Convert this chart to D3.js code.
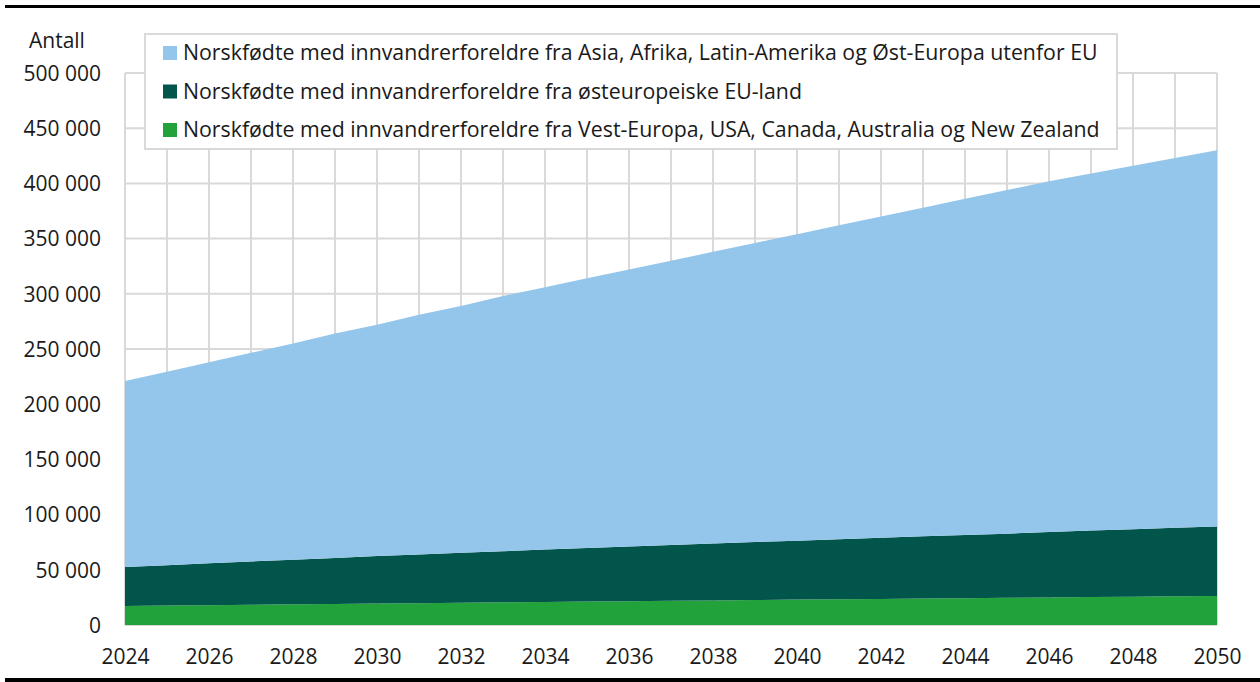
<html>
<head>
<meta http-equiv="Content-Type" content="text/html;charset=utf-8">
<title>Norskfødte med innvandrerforeldre</title>
<style>
  body { margin: 0; background: #fff; }
  svg text { font-family: "Open Sans", "DejaVu Sans", sans-serif; fill: #1a1a1a; }
</style>
</head>
<body>
<script src="https://cdn.jsdelivr.net/npm/d3@7/dist/d3.min.js"></script>
<script>
    var w = 1260, h = 682, fs = 21;

    var years = d3.range(2024, 2051);
    var yTicks = [0, 50000, 100000, 150000, 200000, 250000, 300000, 350000, 400000, 450000, 500000];
    var xTicks = [2024, 2026, 2028, 2030, 2032, 2034, 2036, 2038, 2040, 2042, 2044, 2046, 2048, 2050];

    var seriesNames = [
        'Norskfødte med innvandrerforeldre fra Vest-Europa, USA, Canada, Australia og New Zealand',
        'Norskfødte med innvandrerforeldre fra østeuropeiske EU-land',
        'Norskfødte med innvandrerforeldre fra Asia, Afrika, Latin-Amerika og Øst-Europa utenfor EU'
    ];
    var seriesColors = ['#22a23a', '#01554a', '#94c6eb'];

    // values
    var vestEuropa = [17200, 17600, 18000, 18400, 18800, 19100, 19500, 19800, 20200, 20500, 20900, 21200, 21600, 21900,
        22300, 22600, 23000, 23300, 23600, 24000, 24300, 24600, 25000, 25300, 25600, 26000, 26300];
    var ostEu = [35300, 36600, 37900, 39200, 40400, 41700, 42900, 44100, 45200, 46400, 47400, 48500, 49500, 50600,
        51500, 52500, 53400, 54400, 55400, 56300, 57200, 58100, 59200, 60200, 61200, 62000, 63000];
    var asiaAfrika = [168500, 175300, 182100, 188900, 195800, 203200, 209600, 217100, 223600, 231100, 237700, 244300,
        250900, 257500, 264200, 270900, 277600, 284300, 291000, 297700, 304500, 311300, 317800, 323500, 329200, 335000, 340700];

    var table = years.map(function (yr, i) {
        return { year: yr, s0: vestEuropa[i], s1: ostEu[i], s2: asiaAfrika[i] };
    });

    var pLeft = 125, pRight = 1217, pTop = 73, pBottom = 625;

    var x = d3.scaleLinear().domain([2024, 2050]).range([pLeft, pRight]);
    var y = d3.scaleLinear().domain([0, 500000]).range([pBottom, pTop]);

    var fmt = function (v) { return d3.format(',')(v).replace(/,/g, ' '); };

    var svg = d3.select('body').append('svg').attr('width', w).attr('height', h);

    // black rules top and bottom
    svg.append('rect').attr('x', 5).attr('y', 5).attr('width', w - 5).attr('height', 3).attr('fill', '#000');
    svg.append('rect').attr('x', 5).attr('y', 678).attr('width', w - 5).attr('height', 4).attr('fill', '#000');

    // grid
    var grid = svg.append('g').attr('stroke', '#d9d9d9').attr('stroke-width', 2);
    grid.selectAll('line.v').data(years).enter().append('line')
        .attr('x1', function (d) { return x(d); }).attr('x2', function (d) { return x(d); })
        .attr('y1', pTop).attr('y2', pBottom);
    grid.selectAll('line.h').data(yTicks).enter().append('line')
        .attr('x1', pLeft).attr('x2', pRight)
        .attr('y1', function (d) { return y(d); }).attr('y2', function (d) { return y(d); });

    // stacked areas
    var stack = d3.stack().keys(['s0', 's1', 's2']);
    var area = d3.area()
        .x(function (d) { return x(d.data.year); })
        .y0(function (d) { return y(d[0]); })
        .y1(function (d) { return y(d[1]); });

    svg.selectAll('path.layer').data(stack(table)).enter().append('path')
        .attr('class', 'layer')
        .attr('d', area)
        .attr('fill', function (d, i) { return seriesColors[i]; });

    // axes
    var yAxis = svg.append('g').attr('transform', 'translate(' + (pLeft - 24) + ',0)')
        .call(d3.axisLeft(y).tickValues(yTicks).tickFormat(fmt).tickSize(0));
    yAxis.select('.domain').remove();
    yAxis.selectAll('text').attr('font-size', fs).attr('dy', '0.35em').attr('x', 0);

    var xAxis = svg.append('g').attr('transform', 'translate(0,' + (pBottom + 32) + ')')
        .call(d3.axisBottom(x).tickValues(xTicks).tickFormat(d3.format('d')).tickSize(0));
    xAxis.select('.domain').remove();
    xAxis.selectAll('text').attr('font-size', fs).attr('dy', '0.35em').attr('y', 0);

    svg.append('text').attr('x', 29).attr('y', 48).attr('font-size', fs).text('Antall');

    // legend
    var lg = svg.append('g');
    lg.append('rect').attr('x', 145).attr('y', 34).attr('width', 972).attr('height', 115)
        .attr('fill', '#fff').attr('stroke', '#d9d9d9').attr('stroke-width', 2);
    var order = [2, 1, 0];
    var rows = lg.selectAll('g.item').data(order).enter().append('g')
        .attr('transform', function (d, i) { return 'translate(163,' + (53 + i * 38.5) + ')'; });
    rows.append('rect').attr('x', 0).attr('y', -7).attr('width', 14).attr('height', 14)
        .attr('fill', function (d) { return seriesColors[d]; });
    rows.append('text').attr('x', 20).attr('dy', '0.35em').attr('font-size', 21.3)
        .text(function (d) { return seriesNames[d]; });
</script>
</body>
</html>
